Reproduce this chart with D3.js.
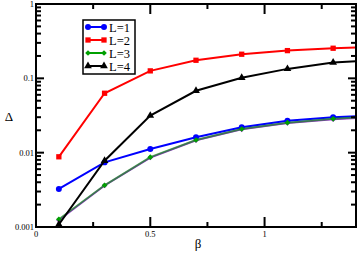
<!DOCTYPE html>
<html>
<head>
<meta charset="utf-8">
<script src="https://cdn.jsdelivr.net/npm/d3@7"></script>
<style>
  body { margin: 0; background: #fff; }
  svg { display: block; }
  text { font-family: "Liberation Serif", "DejaVu Serif", serif; fill: #000; }
</style>
</head>
<body>
<svg id="chart" width="357" height="254"></svg>
<script>
// data
var beta = [0.1, 0.3, 0.5, 0.7, 0.9, 1.1, 1.3, 1.5];
var deltaL1 = [0.00325, 0.0074, 0.0112, 0.0161, 0.022, 0.0269, 0.030, 0.032];
var deltaL2 = [0.0088, 0.063, 0.126, 0.175, 0.211, 0.236, 0.254, 0.266];
var deltaL3 = [0.00127, 0.00364, 0.0087, 0.0148, 0.0208, 0.0253, 0.0285, 0.031];
var deltaL4 = [0.00108, 0.0078, 0.0315, 0.068, 0.102, 0.134, 0.163, 0.178];
var deltaHidden = [0.00124, 0.00362, 0.0086, 0.0147, 0.0206, 0.0251, 0.0282, 0.0305];
var xTicks = [0, 0.5, 1];
var xMinor = [0.25, 0.75, 1.25];
var yTicks = [0.001, 0.01, 0.1, 1];

var series = [
  {name: "L=5", values: deltaHidden, color: "#9a2fd0", shape: "diamond", legend: false},
  {name: "L=1", values: deltaL1, color: "#0000ff", shape: "circle", legend: true},
  {name: "L=2", values: deltaL2, color: "#ff0000", shape: "square", legend: true},
  {name: "L=3", values: deltaL3, color: "#00a000", shape: "diamond", legend: true},
  {name: "L=4", values: deltaL4, color: "#000000", shape: "triangle", legend: true}
];

var svg = d3.select("#chart");
var mLeft = 36, mRight = 356, mTop = 4, mBottom = 227;

var x = d3.scaleLinear().domain([0, 1.4]).range([mLeft, mRight]);
var y = d3.scaleLog().domain([0.001, 1]).range([mBottom, mTop]);

var symbols = {
  circle: d3.symbol().type(d3.symbolCircle).size(28),
  square: d3.symbol().type(d3.symbolSquare).size(28),
  diamond: d3.symbol().type(d3.symbolSquare).size(16),
  triangle: d3.symbol().type(d3.symbolTriangle).size(26)
};
var rot = { diamond: 45 };

svg.append("clipPath").attr("id", "plotclip")
  .append("rect").attr("x", mLeft).attr("y", mTop)
  .attr("width", mRight - mLeft).attr("height", mBottom - mTop);

var plot = svg.append("g").attr("clip-path", "url(#plotclip)");
var line = d3.line().x(function (d) { return x(d[0]); }).y(function (d) { return y(d[1]); });

function place(px, py, shape) {
  return "translate(" + px + "," + py + ") rotate(" + (rot[shape] || 0) + ")";
}

series.forEach(function (s) {
  var pts = beta.map(function (b, i) { return [b, s.values[i]]; });
  plot.append("path").datum(pts)
    .attr("d", line)
    .attr("fill", "none")
    .attr("stroke", s.color)
    .attr("stroke-width", 2)
    .attr("stroke-opacity", s.name == "L=3" ? 0.6 : 1);
  plot.selectAll(null).data(pts).enter().append("path")
    .attr("d", symbols[s.shape])
    .attr("transform", function (d) { return place(x(d[0]), y(d[1]), s.shape); })
    .attr("fill", s.color);
});

// ticks, inside on all four sides
var axes = svg.append("g").attr("stroke", "#000").attr("stroke-width", 2);
xTicks.forEach(function (t) {
  axes.append("line").attr("x1", x(t)).attr("x2", x(t)).attr("y1", mBottom).attr("y2", mBottom - 10);
  axes.append("line").attr("x1", x(t)).attr("x2", x(t)).attr("y1", mTop).attr("y2", mTop + 10);
});
xMinor.forEach(function (t) {
  axes.append("line").attr("x1", x(t)).attr("x2", x(t)).attr("y1", mBottom).attr("y2", mBottom - 5);
  axes.append("line").attr("x1", x(t)).attr("x2", x(t)).attr("y1", mTop).attr("y2", mTop + 5);
});
y.ticks().forEach(function (t) {
  var major = yTicks.indexOf(t) >= 0;
  var len = major ? 8 : 5;
  axes.append("line").attr("x1", mLeft).attr("x2", mLeft + len).attr("y1", y(t)).attr("y2", y(t));
  axes.append("line").attr("x1", mRight).attr("x2", mRight - len).attr("y1", y(t)).attr("y2", y(t));
});

axes.append("rect").attr("x", mLeft).attr("y", mTop)
  .attr("width", mRight - mLeft).attr("height", mBottom - mTop).attr("fill", "none");

// tick labels
svg.selectAll(".xl").data(xTicks).enter().append("text")
  .attr("x", function (d) { return x(d); }).attr("y", mBottom + 10)
  .attr("text-anchor", "middle").attr("font-size", 8.5)
  .text(function (d) { return d3.format("")(d); });
svg.selectAll(".yl").data(yTicks).enter().append("text")
  .attr("x", mLeft - 2).attr("y", function (d) { return y(d) + 3; })
  .attr("text-anchor", "end").attr("font-size", 8.5)
  .text(function (d) { return d3.format("")(d); });

// axis titles
svg.append("text").attr("x", 9).attr("y", 121).attr("text-anchor", "middle")
  .attr("font-size", 13).text("Δ");
svg.append("text").attr("x", 198).attr("y", 248).attr("text-anchor", "middle")
  .attr("font-size", 13).text("β");

// legend
var legend = svg.append("g").attr("transform", "translate(83,20)");
legend.append("rect").attr("width", 52).attr("height", 54)
  .attr("fill", "#fff").attr("stroke", "#000").attr("stroke-width", 1.5);
series.filter(function (s) { return s.legend; }).forEach(function (s, i) {
  var yy = 7 + i * 13;
  legend.append("line").attr("x1", 5).attr("x2", 21).attr("y1", yy).attr("y2", yy)
    .attr("stroke", s.color).attr("stroke-width", 2);
  [5, 21].forEach(function (xx) {
    legend.append("path").attr("d", symbols[s.shape])
      .attr("transform", place(xx, yy, s.shape)).attr("fill", s.color);
  });
  legend.append("text").attr("x", 26).attr("y", yy + 5).attr("font-size", 12.5).text(s.name);
});
</script>
</body>
</html>
